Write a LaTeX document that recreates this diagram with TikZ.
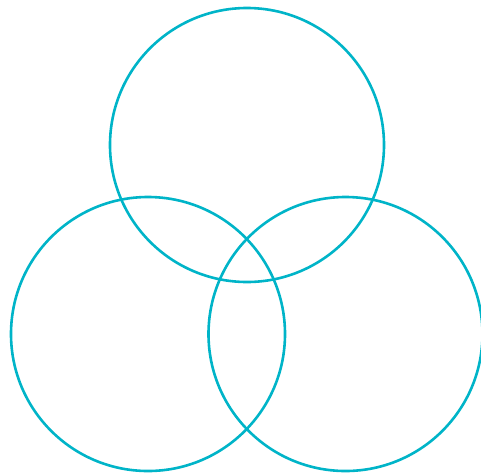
\documentclass[tikz,border=0pt]{standalone}
\definecolor{ringcol}{HTML}{00B4C8}
\begin{document}
\begin{tikzpicture}[x=1pt,y=-1pt,ring/.style={draw=ringcol,line width=2.6pt}]
\useasboundingbox (0,0) rectangle (481,475);
\node[ring,circle,minimum size=274pt,inner sep=0pt] (top) at (247,145) {};
\node[ring,circle,minimum size=274pt,inner sep=0pt] (left) at (148,334) {};
\node[ring,circle,minimum size=274pt,inner sep=0pt] (right) at (345.5,334) {};
\end{tikzpicture}
\end{document}
